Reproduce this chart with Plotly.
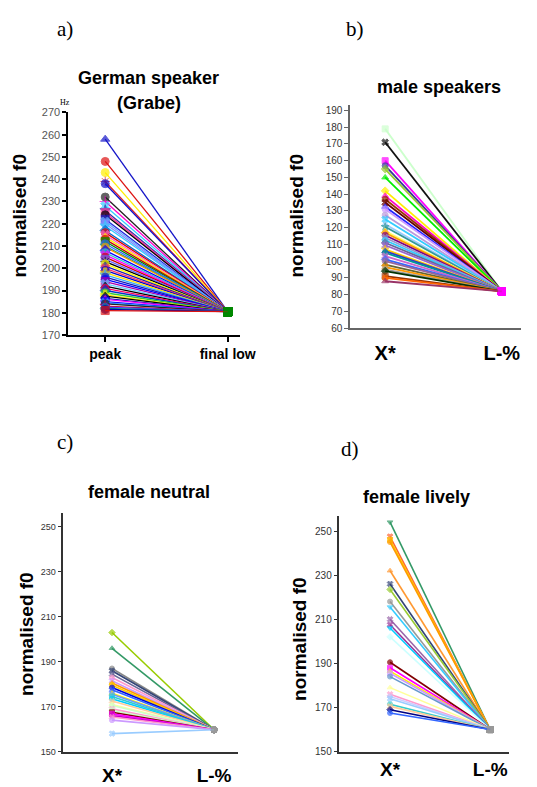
import plotly.graph_objects as go

W, H = 537, 787
# the page body adds an 8px margin around the figure; positions are compensated
OFF = 8

# ---------------- data ----------------
# a) German speaker (Grabe): peak values -> final low
a_categories = ["peak", "final low"]
a_peaks = [258, 248, 243, 239, 238, 232, 230, 228, 226, 225, 224, 222, 221, 220, 219,
           217, 216, 215, 214, 213, 212, 211, 210, 209.5, 208, 207, 206, 205, 204, 203,
           202, 201, 200, 199, 198, 197, 196, 195, 194, 193, 192, 191, 190, 189, 188,
           187.5, 186.5, 186, 185, 184.5, 184, 183, 182.5, 182, 181.5, 181]
a_final = 180.5

# b) male speakers: X* -> L-%
b_categories = ["X*", "L-%"]
b_peaks = [179, 171, 160, 157, 155, 150, 142, 139, 137, 135, 132.5, 131, 127.5, 125,
           122, 120.5, 118, 117, 115.5, 114, 112.5, 111, 109.5, 107, 106, 105, 103,
           101, 100, 98, 96.5, 95, 94, 91, 90, 88]
b_final = 82

# c) female neutral: X* -> L-%
c_categories = ["X*", "L-%"]
c_peaks = [203, 196, 187, 186, 184.5, 183, 181.5, 180.5, 179.5, 178.5, 177.5, 176,
           175.5, 174.5, 173.5, 172.5, 171, 170.5, 169, 168.3, 167.5, 166.8, 166,
           165.4, 164, 158]
c_final = 159.7

# d) female lively: X* -> L-%
d_categories = ["X*", "L-%"]
d_peaks = [254, 247.5, 246, 245, 232, 226, 223.5, 218, 215.5, 210, 207.5, 206, 202,
           190.5, 188, 186.5, 185.5, 184, 179, 176, 175, 174, 171.5, 170.5, 169, 167.5]
d_final = 160

# ---------------- styles ----------------
a_colors = ["#1414C8", "#DD1111", "#FFEE00", "#DD2222", "#1010CC", "#222222", "#FF00CC",
            "#33CCFF", "#3333AA", "#FF3399", "#000000", "#2222DD", "#66AAFF", "#8888FF",
            "#33CCFF", "#0066CC", "#DD0000", "#FF66CC", "#FFEE00", "#CC0000", "#008800",
            "#3366FF", "#009999", "#FF9900", "#0000FF", "#33CCCC", "#FF00FF", "#CC0000",
            "#6666FF", "#000000", "#FFFF00", "#2222AA", "#FF3366", "#0000CC", "#FFDD00",
            "#33AAFF", "#1E1EB4", "#0000FF", "#AA00AA", "#66CCFF", "#000000", "#FF0066",
            "#0033CC", "#33CC33", "#FFEE00", "#000000", "#1111AA", "#FF00FF", "#0000FF",
            "#3399FF", "#222222", "#CC0033", "#4444FF", "#008080", "#0000AA", "#DD1111"]
a_symbols = ["triangle-up", "circle", "circle", "asterisk-open", "circle", "circle",
             "cross-thin-open", "x", "star", "square", "circle", "square", "x", "circle",
             "star", "diamond", "circle", "x", "triangle-up", "circle", "square",
             "circle", "star", "circle", "diamond", "circle", "x", "circle", "square",
             "asterisk-open", "circle", "triangle-up", "x", "circle", "cross", "star",
             "circle", "circle", "square", "x", "triangle-up", "circle", "diamond",
             "circle", "cross", "triangle-up", "circle", "triangle-up", "square", "x",
             "circle", "star", "circle", "diamond", "circle", "square"]

b_colors = ["#CCFFCC", "#111111", "#FF00FF", "#333399", "#99CC33", "#00EE00", "#FFEE00",
            "#FF00CC", "#993300", "#660000", "#2222FF", "#CC99FF", "#BB99DD", "#33CCFF",
            "#99CCFF", "#339999", "#FFFF66", "#FF9900", "#800080", "#9999CC", "#33CCFF",
            "#666699", "#9966CC", "#FFCC00", "#3333CC", "#009999", "#CC66CC", "#3366FF",
            "#996699", "#666633", "#FF9900", "#999999", "#003300", "#993300", "#FF6600",
            "#993366"]
b_symbols = ["square", "x", "square", "circle", "diamond", "triangle-up", "diamond",
             "triangle-up", "circle", "x", "triangle-up", "circle", "circle", "x",
             "triangle-up", "star", "triangle-up", "diamond", "circle", "x", "circle",
             "diamond", "x", "star", "triangle-up", "circle", "x", "diamond", "circle",
             "triangle-up", "x", "circle", "diamond", "square", "circle", "triangle-up"]

c_colors = ["#99CC00", "#339966", "#888888", "#334477", "#666699", "#FF99CC", "#CC99FF",
            "#FF9900", "#FFCC00", "#0000DD", "#3366FF", "#FFEE00", "#6699FF", "#33CCCC",
            "#00CCFF", "#FFCC99", "#FFFF99", "#CCFFCC", "#FF99CC", "#CCFFCC", "#800000",
            "#FF00FF", "#CC00CC", "#FF99CC", "#CC99FF", "#99CCFF"]
c_symbols = ["diamond", "triangle-up", "circle", "x", "x", "circle", "x", "triangle-up",
             "square", "circle", "x", "triangle-up", "x", "square", "circle", "x",
             "triangle-up", "circle", "x", "square", "square", "square", "circle", "x",
             "circle", "x"]

d_colors = ["#339966", "#FF6633", "#FFCC00", "#FF9900", "#FF9933", "#334477", "#99CC33",
            "#999999", "#33CCFF", "#9966AA", "#993399", "#00CCFF", "#CCFFFF", "#800000",
            "#FF00FF", "#FFEE00", "#CC99FF", "#6699CC", "#FFFF99", "#FF99CC", "#CCCCFF",
            "#99CCFF", "#33CCCC", "#FFCC99", "#000080", "#3366FF"]
d_symbols = ["triangle-down", "x", "square", "circle", "triangle-up", "x", "diamond",
             "circle", "triangle-down", "x", "x", "triangle-down", "diamond", "circle",
             "square", "triangle-up", "square", "circle", "triangle-up", "x", "circle",
             "x", "circle", "x", "diamond", "circle"]

FONT = "Liberation Sans, Arial, sans-serif"
SERIF = "Liberation Serif, Times New Roman, serif"


def px2x(px):
    return (px - OFF) / W


def px2y(py):
    return 1 - (py - OFF) / H


fig = go.Figure()


def add_panel(idx, peaks, final, colors, symbols, end_color, end_symbol,
              lw, msize, end_size):
    xa = "x" if idx == 1 else f"x{idx}"
    ya = "y" if idx == 1 else f"y{idx}"
    for i, p in enumerate(peaks):
        col = colors[i % len(colors)]
        sym = symbols[i % len(symbols)]
        fig.add_trace(go.Scatter(
            x=[0, 1], y=[p, final], xaxis=xa, yaxis=ya, mode="lines+markers",
            line=dict(color=col, width=lw),
            marker=dict(color=[col, end_color], symbol=[sym, end_symbol],
                        size=[msize, end_size],
                        line=dict(color=[col, end_color], width=1)),
            showlegend=False, hoverinfo="y"))


add_panel(1, a_peaks, a_final, a_colors, a_symbols, "#008800", "square", 1.3, 8, 8)
add_panel(2, b_peaks, b_final, b_colors, b_symbols, "#FF00FF", "square", 1.8, 6, 7)
add_panel(3, c_peaks, c_final, c_colors, c_symbols, "#999999", "circle", 1.6, 5, 6)
add_panel(4, d_peaks, d_final, d_colors, d_symbols, "#999999", "square", 1.6, 5, 6)

common_y = dict(showgrid=False, zeroline=False, showline=True, ticks="outside",
                ticklen=4, fixedrange=True)
common_x = dict(showgrid=False, zeroline=False, showline=True, fixedrange=True)

fig.update_layout(
    width=W, height=H, margin=dict(l=0, r=0, t=0, b=0),
    paper_bgcolor="white", plot_bgcolor="white", showlegend=False,
    font=dict(family=FONT, color="#000"),
    # a)
    xaxis=dict(**common_x, domain=[px2x(70), px2x(247)], range=[-0.3016, 1.103],
               tickvals=[0, 1], ticktext=a_categories, ticks="outside", ticklen=5,
               tickwidth=1.5, linecolor="#000", linewidth=1.8, tickcolor="#000",
               tickfont=dict(size=14, weight="bold", color="#000"), anchor="y"),
    yaxis=dict(**common_y, domain=[px2y(334), px2y(108)], range=[170, 270], dtick=10,
               linecolor="#000", linewidth=1.8, tickcolor="#000", tickwidth=1.5,
               tickfont=dict(size=11, color="#555"), anchor="x"),
    # b)
    xaxis2=dict(**common_x, domain=[px2x(360), px2x(536)], range=[-0.3, 1.1667],
                tickvals=[0, 1], ticktext=b_categories, ticks="outside", ticklen=6,
                tickcolor="rgba(0,0,0,0)", linecolor="#666", linewidth=1.5,
                tickfont=dict(size=20, weight="bold", color="#000"), anchor="y2"),
    yaxis2=dict(**common_y, domain=[px2y(327), px2y(100)], range=[60, 193.5], dtick=10,
                linecolor="#666", linewidth=1.5, tickcolor="#666",
                tickfont=dict(size=10, color="#333"), anchor="x2"),
    # c)
    xaxis3=dict(**common_x, domain=[px2x(65), px2x(245)], range=[-0.476, 1.238],
                tickvals=[0, 1], ticktext=c_categories, ticks="outside", ticklen=6,
                tickcolor="rgba(0,0,0,0)", linecolor="#333", linewidth=1.5,
                tickfont=dict(size=19, weight="bold", color="#000"), anchor="y3"),
    yaxis3=dict(**common_y, domain=[px2y(757), px2y(515)], range=[150, 256.1],
                tickvals=[150, 170, 190, 210, 230, 250], linecolor="#333",
                linewidth=1.5, tickcolor="#333",
                tickfont=dict(size=9, color="#333"), anchor="x3"),
    # d)
    xaxis4=dict(**common_x, domain=[px2x(349), px2x(523)], range=[-0.505, 1.184],
                tickvals=[0, 1], ticktext=d_categories, ticks="",
                linecolor="#333", linewidth=1.5,
                tickfont=dict(size=19, weight="bold", color="#000"), anchor="y4"),
    yaxis4=dict(**common_y, domain=[px2y(757), px2y(518)], range=[150, 256.7],
                tickvals=[150, 170, 190, 210, 230, 250], linecolor="#333",
                linewidth=1.5, tickcolor="#333",
                tickfont=dict(size=10, color="#333"), anchor="x4"),
)


def ann(text, x, y, size, family=FONT, weight="bold", angle=0, color="#000"):
    fig.add_annotation(text=text, x=px2x(x), y=px2y(y), xref="paper", yref="paper",
                       xanchor="center", yanchor="middle", showarrow=False,
                       textangle=angle,
                       font=dict(size=size, family=family, weight=weight, color=color))


# panel letters
ann("a)", 67, 23, 21, SERIF, "normal")
ann("b)", 365, 23, 21, SERIF, "normal")
ann("c)", 67, 443, 21, SERIF, "normal")
ann("d)", 360, 450, 21, SERIF, "normal")

# titles
ann("German speaker", 153, 73, 18)
ann("(Grabe)", 153, 98, 18)
ann("male speakers", 451, 82, 18)
ann("female neutral", 153, 493, 18)
ann("female lively", 428, 498, 18)

# y labels
ann("normalised f0", 20, 213, 19, angle=-90)
ann("normalised f0", 305, 213, 19, angle=-90)
ann("normalised f0", 27, 637, 19, angle=-90)
ann("normalised f0", 308, 643, 19, angle=-90)

# Hz unit
ann("Hz", 67, 98, 8, SERIF, "normal")

fig.write_html("out.html")
